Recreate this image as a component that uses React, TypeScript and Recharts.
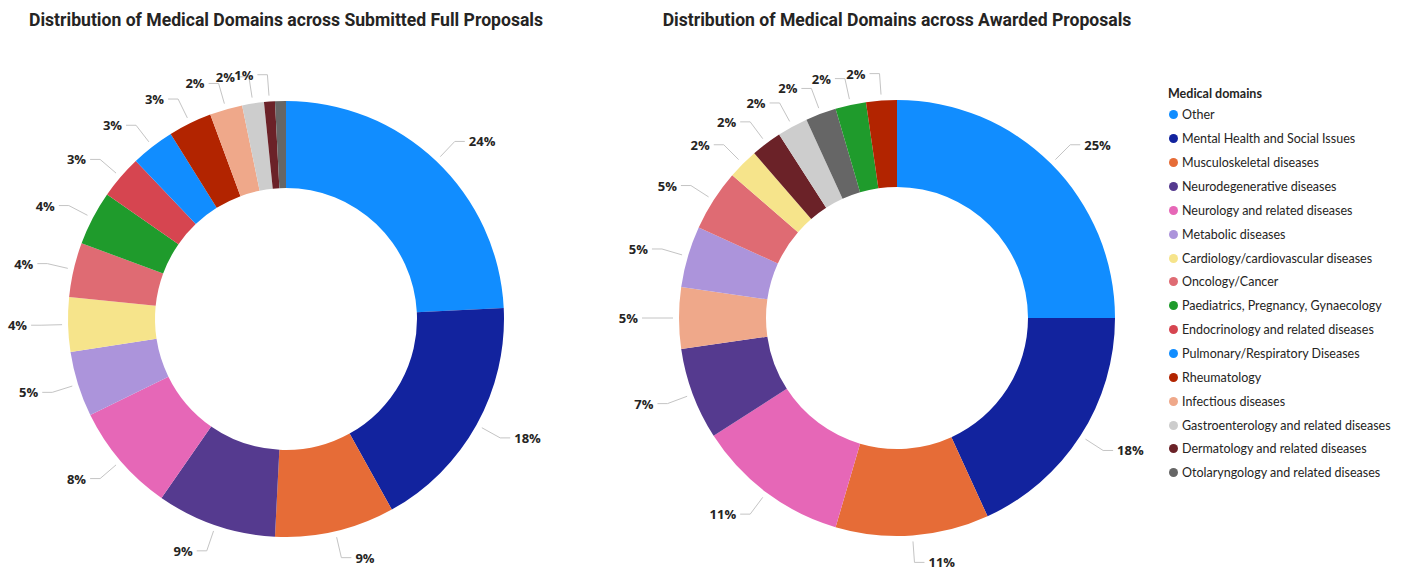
import React from 'react';
import { PieChart, Pie, Cell } from 'recharts';

// legend order, also the order of the submitted donut
const domains = [
  'Other',
  'Mental Health and Social Issues',
  'Musculoskeletal diseases',
  'Neurodegenerative diseases',
  'Neurology and related diseases',
  'Metabolic diseases',
  'Cardiology/cardiovascular diseases',
  'Oncology/Cancer',
  'Paediatrics, Pregnancy, Gynaecology',
  'Endocrinology and related diseases',
  'Pulmonary/Respiratory Diseases',
  'Rheumatology',
  'Infectious diseases',
  'Gastroenterology and related diseases',
  'Dermatology and related diseases',
  'Otolaryngology and related diseases',
];

const domainColors = [
  '#118DFF', '#12239E', '#E66C37', '#553A8F', '#E667B7', '#AC94DB', '#F6E48B', '#DF6B73',
  '#1F9B2C', '#D64550', '#118DFF', '#B22400', '#EFA88A', '#CDCDCD', '#6B2228', '#666666',
];

const submittedCounts = [30, 22, 11, 11, 10, 6, 5, 5, 5, 4, 4, 4, 3, 2, 1, 1];

const awardedDomains = [
  'Other',
  'Mental Health and Social Issues',
  'Musculoskeletal diseases',
  'Neurology and related diseases',
  'Neurodegenerative diseases',
  'Infectious diseases',
  'Metabolic diseases',
  'Oncology/Cancer',
  'Cardiology/cardiovascular diseases',
  'Dermatology and related diseases',
  'Gastroenterology and related diseases',
  'Otolaryngology and related diseases',
  'Paediatrics, Pregnancy, Gynaecology',
  'Rheumatology',
];
const awardedCounts = [11, 8, 5, 5, 3, 2, 2, 2, 1, 1, 1, 1, 1, 1];

const submittedData = domains.map((name, i) => ({ name, value: submittedCounts[i] }));
const awardedData = awardedDomains.map((name, i) => ({ name, value: awardedCounts[i] }));
const colorOf = (name: string) => domainColors[domains.indexOf(name)];

const RADIAN = Math.PI / 180;
const OUTER = 218;
const INNER = 131;
const TEXT = '#252423';
const LABEL_FONT = '"Open Sans", "Noto Sans", sans-serif';

// Power BI drops labels that collide, figure out which ones stay
const visibleLabels = (values: number[], cx: number, cy: number) => {
  const total = values.reduce((a, b) => a + b, 0);
  let acc = 0;
  const kept: { x0: number; x1: number; y: number }[] = [];
  return values.map((v) => {
    const mid = 90 - ((acc + v / 2) / total) * 360;
    acc += v;
    const ex = cx + (OUTER + 27) * Math.cos(-mid * RADIAN);
    const ey = cy + (OUTER + 27) * Math.sin(-mid * RADIAN);
    const right = ex >= cx;
    const w = Math.round((v / total) * 100) >= 10 ? 27 : 18;
    const box = right ? { x0: ex + 14, x1: ex + 14 + w, y: ey } : { x0: ex - 14 - w, x1: ex - 14, y: ey };
    const clash = kept.some((k) => Math.abs(k.y - box.y) < 13 && box.x0 < k.x1 && box.x1 > k.x0);
    if (!clash) kept.push(box);
    return !clash;
  });
};

const submittedShown = visibleLabels(submittedCounts, 286, 319);
const awardedShown = visibleLabels(awardedCounts, 897, 318);

const makeLabel = (shown: boolean[]) => (props: any) => {
  const { cx, cy, midAngle, percent, index } = props;
  if (!shown[index]) return null;
  const cos = Math.cos(-midAngle * RADIAN);
  const sin = Math.sin(-midAngle * RADIAN);
  const sx = cx + (OUTER + 6) * cos;
  const sy = cy + (OUTER + 6) * sin;
  const mx = cx + (OUTER + 27) * cos;
  const my = cy + (OUTER + 27) * sin;
  const right = cos >= 0;
  const ex = mx + (right ? 10 : -10);
  return (
    <g key={`lbl-${index}`}>
      <polyline points={`${sx},${sy} ${mx},${my} ${ex},${my}`} fill="none" stroke="#C4C4C4" strokeWidth={1} />
      <text
        x={ex + (right ? 4 : -4)}
        y={my}
        textAnchor={right ? 'start' : 'end'}
        dominantBaseline="central"
        fill={TEXT}
        fontSize={13}
        fontWeight={700}
        fontFamily={LABEL_FONT}
      >
        {`${Math.round(percent * 100)}%`}
      </text>
    </g>
  );
};

const titleStyle: React.CSSProperties = {
  position: 'absolute',
  top: 9,
  width: 700,
  textAlign: 'center',
  fontFamily: 'Roboto, sans-serif',
  fontWeight: 700,
  fontSize: 17.6,
  lineHeight: '22px',
  color: TEXT,
  whiteSpace: 'nowrap',
};

export default function App() {
  return (
    <div style={{ position: 'absolute', left: 0, top: 0, width: 1402, height: 568, background: '#fff' }}>
      <div style={{ ...titleStyle, left: 286 - 350 }}>Distribution of Medical Domains across Submitted Full Proposals</div>
      <div style={{ ...titleStyle, left: 897 - 350 }}>Distribution of Medical Domains across Awarded Proposals</div>

      <div style={{ position: 'absolute', left: 0, top: 0 }}>
        <PieChart width={1402} height={568} margin={{ top: 0, right: 0, bottom: 0, left: 0 }}>
          <Pie
            data={submittedData}
            dataKey="value"
            nameKey="name"
            cx={286}
            cy={319}
            innerRadius={INNER}
            outerRadius={OUTER}
            startAngle={90}
            endAngle={-270}
            stroke="none"
            labelLine={false}
            label={makeLabel(submittedShown)}
            isAnimationActive={false}
          >
            {submittedData.map((d) => (
              <Cell key={d.name} fill={colorOf(d.name)} />
            ))}
          </Pie>
          <Pie
            data={awardedData}
            dataKey="value"
            nameKey="name"
            cx={897}
            cy={318}
            innerRadius={INNER}
            outerRadius={OUTER}
            startAngle={90}
            endAngle={-270}
            stroke="none"
            labelLine={false}
            label={makeLabel(awardedShown)}
            isAnimationActive={false}
          >
            {awardedData.map((d) => (
              <Cell key={d.name} fill={colorOf(d.name)} />
            ))}
          </Pie>
        </PieChart>
      </div>

      <div style={{ position: 'absolute', left: 1168, top: 85, fontFamily: 'Lato, "Open Sans", sans-serif', color: TEXT }}>
        <div style={{ fontWeight: 700, fontSize: 12.5, height: 18, lineHeight: '18px' }}>Medical domains</div>
        {domains.map((name, i) => (
          <div key={name} style={{ display: 'flex', alignItems: 'center', height: 23.87, fontSize: 12.5 }}>
            <span
              style={{
                display: 'inline-block',
                width: 9,
                height: 9,
                borderRadius: '50%',
                background: domainColors[i],
                marginLeft: 1,
                marginRight: 4,
              }}
            />
            <span>{name}</span>
          </div>
        ))}
      </div>
    </div>
  );
}
